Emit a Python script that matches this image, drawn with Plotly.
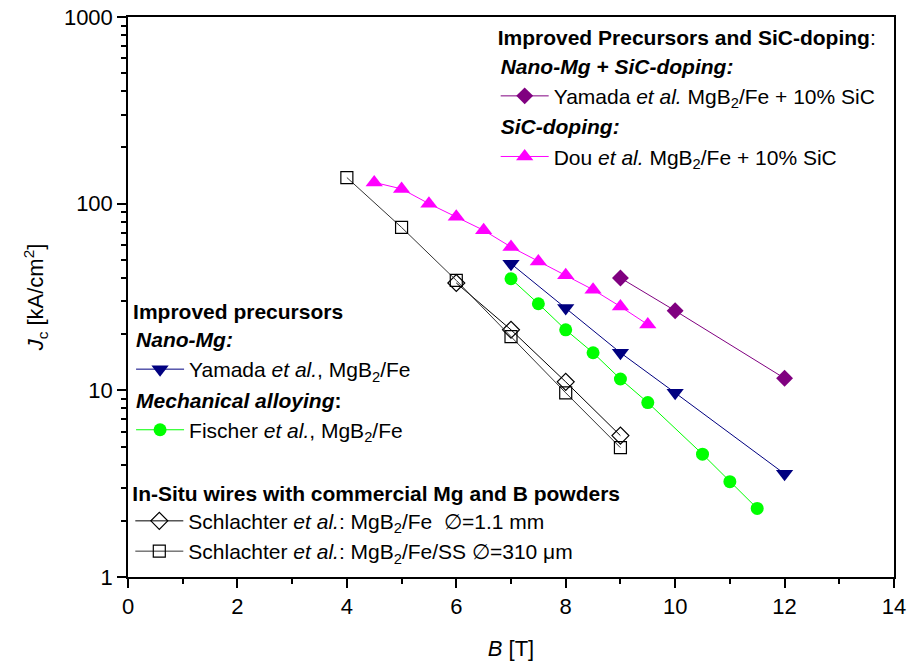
import plotly.graph_objects as go

# ---------------- data ----------------
yamada_sic_B = [9, 10, 12]
yamada_sic_Jc = [40, 26.7, 11.6]

dou_B = [4.5, 5, 5.5, 6, 6.5, 7, 7.5, 8, 8.5, 9, 9.5]
dou_Jc = [130, 120, 100, 85, 72, 58.6, 49, 41.3, 34.6, 28.1, 22.5]

yamada_B = [7, 8, 9, 10, 12]
yamada_Jc = [47.7, 27.6, 15.9, 9.7, 3.57]

fischer_B = [7, 7.5, 8, 8.5, 9, 9.5, 10.5, 11, 11.5]
fischer_Jc = [39.6, 29.1, 21.1, 15.9, 11.5, 8.6, 4.55, 3.24, 2.33]

schl_fe_B = [6, 7, 8, 9]
schl_fe_Jc = [37.6, 21.1, 11.1, 5.72]

schl_ss_B = [4, 5, 6, 7, 8, 9]
schl_ss_Jc = [138, 74.6, 38.8, 19.4, 9.7, 4.93]

y_tick_vals = [1, 10, 100, 1000]
y_tick_text = ["1", "10", "100", "1000"]
x_tick_vals = [0, 2, 4, 6, 8, 10, 12, 14]

FONT = "Arial, Liberation Sans, sans-serif"
FS = 21
TFS = 22

fig = go.Figure()

# ---- top-right legend ----
fig.add_trace(go.Scatter(
    x=yamada_sic_B, y=yamada_sic_Jc, mode="lines+markers",
    line=dict(color="#800080", width=1),
    marker=dict(symbol="diamond", size=13, color="#800080"),
    name="Yamada <i>et al.</i> MgB<sub>2</sub>/Fe + 10% SiC",
    legend="legend", legendgroup="nanosic",
    legendgrouptitle=dict(text="<b><i>Nano-Mg + SiC-doping:</i></b>",
                          font=dict(size=FS, family=FONT, color="black")),
))
fig.add_trace(go.Scatter(
    x=dou_B, y=dou_Jc, mode="lines+markers",
    line=dict(color="#FF00FF", width=1),
    marker=dict(symbol="triangle-up", size=15, color="#FF00FF"),
    name="Dou <i>et al.</i> MgB<sub>2</sub>/Fe + 10% SiC",
    legend="legend", legendgroup="sic",
    legendgrouptitle=dict(text="<b><i>SiC-doping:</i></b>",
                          font=dict(size=FS, family=FONT, color="black")),
))

# ---- middle-left legend ----
fig.add_trace(go.Scatter(
    x=yamada_B, y=yamada_Jc, mode="lines+markers",
    line=dict(color="#000080", width=1),
    marker=dict(symbol="triangle-down", size=15, color="#000080"),
    name="Yamada <i>et al.</i>, MgB<sub>2</sub>/Fe",
    legend="legend2", legendgroup="nano",
    legendgrouptitle=dict(text="<b><i>Nano-Mg:</i></b>",
                          font=dict(size=FS, family=FONT, color="black")),
))
fig.add_trace(go.Scatter(
    x=fischer_B, y=fischer_Jc, mode="lines+markers",
    line=dict(color="#00FF00", width=1),
    marker=dict(symbol="circle", size=13, color="#00FF00"),
    name="Fischer <i>et al.</i>, MgB<sub>2</sub>/Fe",
    legend="legend2", legendgroup="mech",
    legendgrouptitle=dict(text="<b><i>Mechanical alloying</i>:</b>",
                          font=dict(size=FS, family=FONT, color="black")),
))

# ---- bottom-left legend ----
fig.add_trace(go.Scatter(
    x=schl_fe_B, y=schl_fe_Jc, mode="lines+markers",
    line=dict(color="black", width=1),
    marker=dict(symbol="diamond-open", size=13, color="black", line=dict(width=1.2)),
    name="Schlachter <i>et al.</i>: MgB<sub>2</sub>/Fe  \u2205=1.1 mm",
    legend="legend3",
))
fig.add_trace(go.Scatter(
    x=schl_ss_B, y=schl_ss_Jc, mode="lines+markers",
    line=dict(color="#333333", width=1),
    marker=dict(symbol="square-open", size=12, color="black", line=dict(width=1.2)),
    name="Schlachter <i>et al.</i>: MgB<sub>2</sub>/Fe/SS \u2205=310 \u03bcm",
    legend="legend3",
))

minor_y = [m * 10 ** e for e in range(0, 3) for m in range(2, 10)]

leg_common = dict(
    bgcolor="rgba(0,0,0,0)", borderwidth=0,
    font=dict(size=FS, family=FONT, color="black"),
    xanchor="left", yanchor="top", tracegroupgap=0,
    itemsizing="trace", itemwidth=48,
)

fig.update_layout(
    width=908, height=664,
    margin=dict(l=128, r=14, t=17, b=87, autoexpand=False),
    paper_bgcolor="white", plot_bgcolor="white",
    font=dict(family=FONT, size=FS, color="black"),
    showlegend=True,
    legend=dict(**leg_common, x=0.48, y=0.998,
                title=dict(text="<b>Improved Precursors and SiC-doping</b>:",
                           font=dict(size=FS, family=FONT, color="black"))),
    legend2=dict(**leg_common, x=0.004, y=0.51,
                 title=dict(text="<b>Improved precursors</b>",
                            font=dict(size=FS, family=FONT, color="black"))),
    legend3=dict(**leg_common, x=0.003, y=0.185,
                 title=dict(text="<b>In-Situ wires with commercial Mg and B powders</b>",
                            font=dict(size=FS, family=FONT, color="black"))),
    xaxis=dict(
        range=[0, 14], tickvals=x_tick_vals, automargin=False,
        showgrid=False, zeroline=False,
        showline=True, linecolor="black", linewidth=1.5, mirror=True,
        ticks="outside", ticklen=9, tickwidth=1.5, tickcolor="black",
        minor=dict(dtick=1, ticks="outside", ticklen=5, tickwidth=1.5, tickcolor="black"),
        tickfont=dict(size=TFS, family=FONT),
        title=dict(text="<i>B</i> [T]", font=dict(size=TFS, family=FONT), standoff=22),
    ),
    yaxis=dict(
        type="log", range=[0, 3], automargin=False,
        tickmode="array", tickvals=y_tick_vals, ticktext=y_tick_text,
        showgrid=False, zeroline=False,
        showline=True, linecolor="black", linewidth=1.5, mirror=True,
        ticks="outside", ticklen=9, tickwidth=1.5, tickcolor="black",
        minor=dict(tickmode="array", tickvals=minor_y, ticks="outside",
                   ticklen=5, tickwidth=1.5, tickcolor="black"),
        tickfont=dict(size=TFS, family=FONT),
        title=dict(text="<i>J</i><sub>c</sub> [kA/cm<sup>2</sup>]",
                   font=dict(size=TFS, family=FONT), standoff=14),
    ),
)

fig.write_html("out.html", config={"displayModeBar": False},
               post_script="document.body.style.margin='0px';")
